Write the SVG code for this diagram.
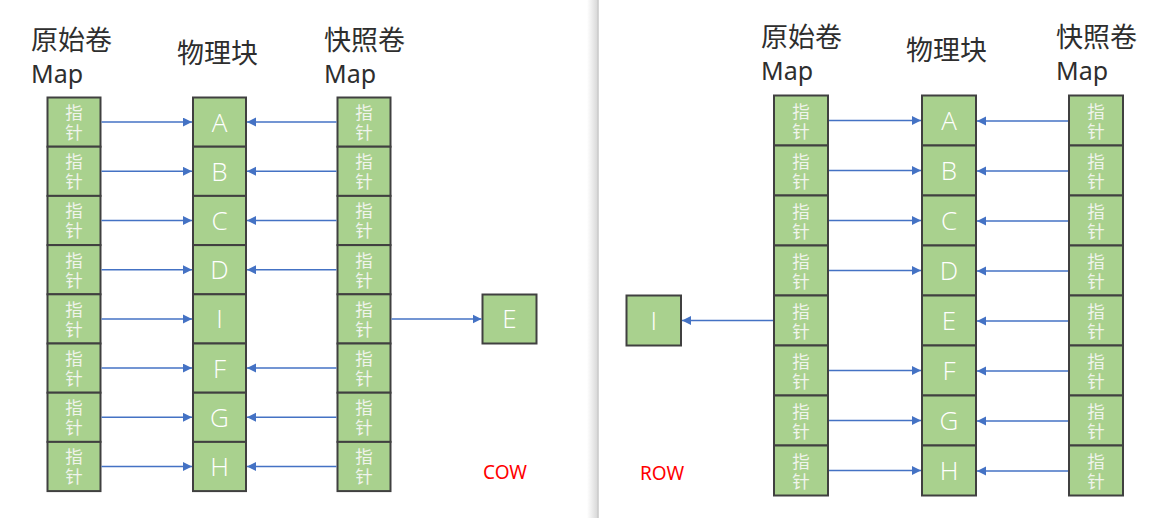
<svg xmlns="http://www.w3.org/2000/svg" width="1161" height="518" viewBox="0 0 1161 518">
<defs>
<style>
.c{fill:#A9D18E;stroke:#404040;stroke-width:2}
.p{font-family:"Noto Sans CJK SC","Noto Sans",sans-serif;font-size:17.5px;fill:#F0F4EC;text-anchor:middle}
.l{font-family:"Open Sans","Noto Sans",sans-serif;font-weight:300;font-size:26px;fill:#FFFFFF;text-anchor:middle}
.h{font-family:"Noto Sans CJK SC",sans-serif;font-size:27px;fill:#2E2E2E}
.m{font-family:"Noto Sans",sans-serif;font-size:25px;fill:#2E2E2E}
.r{font-family:"Noto Sans",sans-serif;font-size:19px;fill:#FF0000}
.a{stroke:#4472C4;stroke-width:1.5;fill:none;marker-end:url(#ah)}
</style>
<marker id="ah" markerUnits="userSpaceOnUse" markerWidth="10" markerHeight="10" refX="9" refY="4.5" orient="auto">
<path d="M0,0 L9,4.5 L0,9 z" fill="#4472C4"/>
</marker>
<linearGradient id="sh" x1="0" y1="0" x2="1" y2="0">
<stop offset="0" stop-color="#FFFFFF"/>
<stop offset="1" stop-color="#D6D6D6"/>
</linearGradient>
<g id="ptr"><text class="p" x="0" y="1">指</text><text class="p" x="0" y="21">针</text></g>
</defs>
<rect width="1161" height="518" fill="#FFFFFF"/>
<rect x="587" y="0" width="11" height="518" fill="url(#sh)"/>
<rect x="597.5" y="0" width="1.2" height="518" fill="#C4C4C4"/>

<!-- Left panel headers -->
<g id="L_h1"><text class="h" x="31" y="50">原始卷</text><text class="m" x="31" y="83">Map</text></g>
<g id="L_h2"><text class="h" x="177" y="63">物理块</text></g>
<g id="L_h3"><text class="h" x="324" y="50">快照卷</text><text class="m" x="324" y="83">Map</text></g>

<!-- Left panel: original map -->
<g id="L_orig">
<g id="L_o0"><rect class="c" x="47.5" y="97.5" width="53" height="49.2"/><use href="#ptr" x="74" y="118"/></g>
<g id="L_o1"><rect class="c" x="47.5" y="146.7" width="53" height="49.2"/><use href="#ptr" x="74" y="167.2"/></g>
<g id="L_o2"><rect class="c" x="47.5" y="195.9" width="53" height="49.2"/><use href="#ptr" x="74" y="216.4"/></g>
<g id="L_o3"><rect class="c" x="47.5" y="245.1" width="53" height="49.2"/><use href="#ptr" x="74" y="265.6"/></g>
<g id="L_o4"><rect class="c" x="47.5" y="294.3" width="53" height="49.2"/><use href="#ptr" x="74" y="314.8"/></g>
<g id="L_o5"><rect class="c" x="47.5" y="343.5" width="53" height="49.2"/><use href="#ptr" x="74" y="364"/></g>
<g id="L_o6"><rect class="c" x="47.5" y="392.7" width="53" height="49.2"/><use href="#ptr" x="74" y="413.2"/></g>
<g id="L_o7"><rect class="c" x="47.5" y="441.9" width="53" height="49.2"/><use href="#ptr" x="74" y="462.4"/></g>
</g>
<!-- Left panel: physical blocks -->
<g id="L_blk">
<g id="L_bA"><rect class="c" x="193" y="97.5" width="53" height="49.2"/><text class="l" x="219.5" y="131.5">A</text></g>
<g id="L_bB"><rect class="c" x="193" y="146.7" width="53" height="49.2"/><text class="l" x="219.5" y="180.7">B</text></g>
<g id="L_bC"><rect class="c" x="193" y="195.9" width="53" height="49.2"/><text class="l" x="219.5" y="229.9">C</text></g>
<g id="L_bD"><rect class="c" x="193" y="245.1" width="53" height="49.2"/><text class="l" x="219.5" y="279.1">D</text></g>
<g id="L_bI"><rect class="c" x="193" y="294.3" width="53" height="49.2"/><text class="l" x="219.5" y="328.3">I</text></g>
<g id="L_bF"><rect class="c" x="193" y="343.5" width="53" height="49.2"/><text class="l" x="219.5" y="377.5">F</text></g>
<g id="L_bG"><rect class="c" x="193" y="392.7" width="53" height="49.2"/><text class="l" x="219.5" y="426.7">G</text></g>
<g id="L_bH"><rect class="c" x="193" y="441.9" width="53" height="49.2"/><text class="l" x="219.5" y="475.9">H</text></g>
</g>
<!-- Left panel: snapshot map -->
<g id="L_snap">
<g id="L_s0"><rect class="c" x="337.5" y="97.5" width="53" height="49.2"/><use href="#ptr" x="364" y="118"/></g>
<g id="L_s1"><rect class="c" x="337.5" y="146.7" width="53" height="49.2"/><use href="#ptr" x="364" y="167.2"/></g>
<g id="L_s2"><rect class="c" x="337.5" y="195.9" width="53" height="49.2"/><use href="#ptr" x="364" y="216.4"/></g>
<g id="L_s3"><rect class="c" x="337.5" y="245.1" width="53" height="49.2"/><use href="#ptr" x="364" y="265.6"/></g>
<g id="L_s4"><rect class="c" x="337.5" y="294.3" width="53" height="49.2"/><use href="#ptr" x="364" y="314.8"/></g>
<g id="L_s5"><rect class="c" x="337.5" y="343.5" width="53" height="49.2"/><use href="#ptr" x="364" y="364"/></g>
<g id="L_s6"><rect class="c" x="337.5" y="392.7" width="53" height="49.2"/><use href="#ptr" x="364" y="413.2"/></g>
<g id="L_s7"><rect class="c" x="337.5" y="441.9" width="53" height="49.2"/><use href="#ptr" x="364" y="462.4"/></g>
</g>
<g id="L_E"><rect class="c" x="482.5" y="294.5" width="54" height="49"/><text class="l" x="509.5" y="328">E</text></g>
<g id="L_label"><text class="r" x="483" y="479">COW</text></g>

<!-- Right panel headers -->
<g id="R_h1"><text class="h" x="761" y="47">原始卷</text><text class="m" x="761" y="80">Map</text></g>
<g id="R_h2"><text class="h" x="906" y="60">物理块</text></g>
<g id="R_h3"><text class="h" x="1056" y="47">快照卷</text><text class="m" x="1056" y="80">Map</text></g>

<!-- Right panel: original map -->
<g id="R_orig">
<g id="R_o0"><rect class="c" x="774" y="95.5" width="54" height="50"/><use href="#ptr" x="801" y="116.5"/></g>
<g id="R_o1"><rect class="c" x="774" y="145.5" width="54" height="50"/><use href="#ptr" x="801" y="166.5"/></g>
<g id="R_o2"><rect class="c" x="774" y="195.5" width="54" height="50"/><use href="#ptr" x="801" y="216.5"/></g>
<g id="R_o3"><rect class="c" x="774" y="245.5" width="54" height="50"/><use href="#ptr" x="801" y="266.5"/></g>
<g id="R_o4"><rect class="c" x="774" y="295.5" width="54" height="50"/><use href="#ptr" x="801" y="316.5"/></g>
<g id="R_o5"><rect class="c" x="774" y="345.5" width="54" height="50"/><use href="#ptr" x="801" y="366.5"/></g>
<g id="R_o6"><rect class="c" x="774" y="395.5" width="54" height="50"/><use href="#ptr" x="801" y="416.5"/></g>
<g id="R_o7"><rect class="c" x="774" y="445.5" width="54" height="50"/><use href="#ptr" x="801" y="466.5"/></g>
</g>
<!-- Right panel: physical blocks -->
<g id="R_blk">
<g id="R_bA"><rect class="c" x="922" y="95.5" width="54" height="50"/><text class="l" x="949" y="130">A</text></g>
<g id="R_bB"><rect class="c" x="922" y="145.5" width="54" height="50"/><text class="l" x="949" y="180">B</text></g>
<g id="R_bC"><rect class="c" x="922" y="195.5" width="54" height="50"/><text class="l" x="949" y="230">C</text></g>
<g id="R_bD"><rect class="c" x="922" y="245.5" width="54" height="50"/><text class="l" x="949" y="280">D</text></g>
<g id="R_bE"><rect class="c" x="922" y="295.5" width="54" height="50"/><text class="l" x="949" y="330">E</text></g>
<g id="R_bF"><rect class="c" x="922" y="345.5" width="54" height="50"/><text class="l" x="949" y="380">F</text></g>
<g id="R_bG"><rect class="c" x="922" y="395.5" width="54" height="50"/><text class="l" x="949" y="430">G</text></g>
<g id="R_bH"><rect class="c" x="922" y="445.5" width="54" height="50"/><text class="l" x="949" y="480">H</text></g>
</g>
<!-- Right panel: snapshot map -->
<g id="R_snap">
<g id="R_s0"><rect class="c" x="1069" y="95.5" width="54" height="50"/><use href="#ptr" x="1096" y="116.5"/></g>
<g id="R_s1"><rect class="c" x="1069" y="145.5" width="54" height="50"/><use href="#ptr" x="1096" y="166.5"/></g>
<g id="R_s2"><rect class="c" x="1069" y="195.5" width="54" height="50"/><use href="#ptr" x="1096" y="216.5"/></g>
<g id="R_s3"><rect class="c" x="1069" y="245.5" width="54" height="50"/><use href="#ptr" x="1096" y="266.5"/></g>
<g id="R_s4"><rect class="c" x="1069" y="295.5" width="54" height="50"/><use href="#ptr" x="1096" y="316.5"/></g>
<g id="R_s5"><rect class="c" x="1069" y="345.5" width="54" height="50"/><use href="#ptr" x="1096" y="366.5"/></g>
<g id="R_s6"><rect class="c" x="1069" y="395.5" width="54" height="50"/><use href="#ptr" x="1096" y="416.5"/></g>
<g id="R_s7"><rect class="c" x="1069" y="445.5" width="54" height="50"/><use href="#ptr" x="1096" y="466.5"/></g>
</g>
<g id="R_I"><rect class="c" x="626.5" y="295.5" width="54.5" height="50"/><text class="l" x="653.7" y="330">I</text></g>
<g id="R_label"><text class="r" x="640" y="480">ROW</text></g>

<!-- Connectors -->
<g id="connectors">
<line class="a" x1="101.5" y1="122.1" x2="192" y2="122.1"/>
<line class="a" x1="101.5" y1="171.3" x2="192" y2="171.3"/>
<line class="a" x1="101.5" y1="220.5" x2="192" y2="220.5"/>
<line class="a" x1="101.5" y1="269.7" x2="192" y2="269.7"/>
<line class="a" x1="101.5" y1="318.9" x2="192" y2="318.9"/>
<line class="a" x1="101.5" y1="368.1" x2="192" y2="368.1"/>
<line class="a" x1="101.5" y1="417.3" x2="192" y2="417.3"/>
<line class="a" x1="101.5" y1="466.5" x2="192" y2="466.5"/>

<line class="a" x1="336.5" y1="122.1" x2="247" y2="122.1"/>
<line class="a" x1="336.5" y1="171.3" x2="247" y2="171.3"/>
<line class="a" x1="336.5" y1="220.5" x2="247" y2="220.5"/>
<line class="a" x1="336.5" y1="269.7" x2="247" y2="269.7"/>
<line class="a" x1="391.5" y1="318.9" x2="481.5" y2="318.9"/>
<line class="a" x1="336.5" y1="368.1" x2="247" y2="368.1"/>
<line class="a" x1="336.5" y1="417.3" x2="247" y2="417.3"/>
<line class="a" x1="336.5" y1="466.5" x2="247" y2="466.5"/>

<line class="a" x1="829" y1="120.5" x2="921" y2="120.5"/>
<line class="a" x1="829" y1="170.5" x2="921" y2="170.5"/>
<line class="a" x1="829" y1="220.5" x2="921" y2="220.5"/>
<line class="a" x1="829" y1="270.5" x2="921" y2="270.5"/>
<line class="a" x1="773" y1="320.5" x2="682" y2="320.5"/>
<line class="a" x1="829" y1="370.5" x2="921" y2="370.5"/>
<line class="a" x1="829" y1="420.5" x2="921" y2="420.5"/>
<line class="a" x1="829" y1="470.5" x2="921" y2="470.5"/>

<line class="a" x1="1068" y1="121" x2="977" y2="121"/>
<line class="a" x1="1068" y1="171" x2="977" y2="171"/>
<line class="a" x1="1068" y1="221" x2="977" y2="221"/>
<line class="a" x1="1068" y1="271" x2="977" y2="271"/>
<line class="a" x1="1068" y1="321" x2="977" y2="321"/>
<line class="a" x1="1068" y1="371" x2="977" y2="371"/>
<line class="a" x1="1068" y1="421" x2="977" y2="421"/>
<line class="a" x1="1068" y1="471" x2="977" y2="471"/>
</g>
</svg>
